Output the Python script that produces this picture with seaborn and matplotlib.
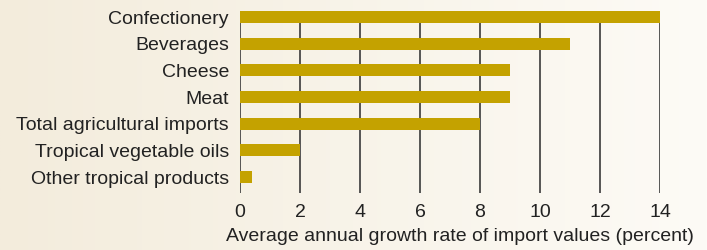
import numpy as np
import pandas as pd
import matplotlib
matplotlib.use("Agg")
import matplotlib.pyplot as plt
import seaborn as sns
from matplotlib.colors import LinearSegmentedColormap

categories = [
    "Confectionery",
    "Beverages",
    "Cheese",
    "Meat",
    "Total agricultural imports",
    "Tropical vegetable oils",
    "Other tropical products",
]
growth = [14, 11, 9, 9, 8, 2, 0.4]
x_ticks = [0, 2, 4, 6, 8, 10, 12, 14]
x_label = "Average annual growth rate of import values (percent)"

df = pd.DataFrame({"category": categories, "growth": growth})

sns.set_theme(style="white")
plt.rcParams["font.family"] = ["Liberation Sans", "DejaVu Sans"]

fig = plt.figure(figsize=(7.07, 2.5), dpi=100)

# soft beige gradient behind everything
bg = fig.add_axes([0, 0, 1, 1], zorder=-10)
cmap = LinearSegmentedColormap.from_list("bg", ["#f3ecdc", "#fdfbf6"])
bg.imshow(np.linspace(0, 1, 256).reshape(1, -1), cmap=cmap, aspect="auto",
          extent=[0, 1, 0, 1])
bg.set_axis_off()

W, H = 707, 250
ax = fig.add_axes([240 / W, 1 - 193 / H, 420 / W, 182 / H])
ax.patch.set_alpha(0)

sns.barplot(data=df, x="growth", y="category", orient="h", color="#c4a200",
            saturation=1, width=0.45, linewidth=0, ax=ax, zorder=3)

ax.set_xlim(0, 14)
ax.set_ylim(6.6, -0.225)
ax.set_xticks(x_ticks)
ax.grid(axis="x", color="#3a3a3a", linewidth=1.2, zorder=0)
ax.set_axisbelow(True)
for s in ax.spines.values():
    s.set_visible(False)
ax.tick_params(axis="both", length=0, labelsize=14, colors="#222222")
ax.tick_params(axis="x", pad=8)
ax.tick_params(axis="y", pad=8)
ax.set_ylabel("")
ax.set_xlabel(x_label, fontsize=14, color="#222222")
ax.xaxis.set_label_coords(0.524, -0.195)

fig.savefig("out.png", dpi=100)
